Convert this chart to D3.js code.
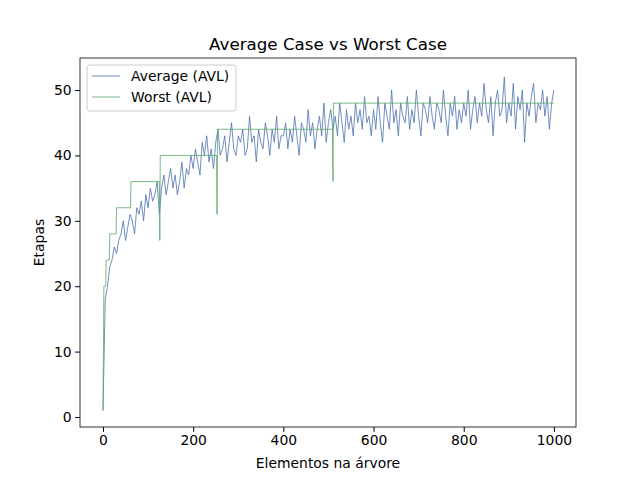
<!DOCTYPE html><html><head><meta charset="utf-8"><script src="https://cdn.jsdelivr.net/npm/d3@7"></script>
<style>body{margin:0;background:#fff}text{font-family:"DejaVu Sans",sans-serif}</style></head><body><svg id="c" width="640" height="480"></svg><script>
const avgStep=5;
const avgValues=[1,18,20,23,24,26,25,27,28,30,27,29,31,30,28,32,31,33,30,34,32,35,33,34,36,31,35,37,34,36,38,35,37,34,36,39,35,38,37,40,
38,41,39,37,42,40,43,39,41,38,42,44,40,41,43,39,42,45,41,40,43,42,44,40,41,46,42,43,39,44,42,41,45,43,40,44,42,46,41,43,
43,45,41,44,42,46,43,40,45,44,42,47,43,45,41,44,46,43,48,42,45,47,44,46,43,48,45,42,47,44,46,43,48,45,47,44,49,45,46,43,
47,44,49,45,42,48,46,44,50,45,47,43,48,46,45,49,44,47,45,50,46,43,48,47,45,49,46,44,48,47,45,50,46,43,48,46,49,44,47,45,
48,46,50,44,47,49,45,48,46,51,47,45,49,43,48,50,46,47,52,45,48,46,51,44,49,47,50,42,48,46,49,51,45,48,47,50,46,49,44,48,50];
const worstX=[0,2,3,6,7,14,15,29,30,61,62,125,126,127,252,253,254,509,510,511,1000];
const worstY=[1,20,20,20,24,24,28,28,32,32,36,36,27,40,40,31,44,44,36,48,48];
const xTicks=[0,200,400,600,800,1000], yTicks=[0,10,20,30,40,50];
const svg=d3.select("#c");
const L=80,R=576,T=58,B=427;
const x=d3.scaleLinear().domain([-51,1049]).range([L,R]);
const y=d3.scaleLinear().domain([-1.53,54.9]).range([B,T]);
const avg=avgValues.map((v,i)=>[i*avgStep,v]);
const line=d3.line().x(d=>x(d[0])).y(d=>y(d[1]));
svg.append("path").datum(avg).attr("d",line).attr("fill","none").attr("stroke","#4c72b0").attr("stroke-width",0.8);
svg.append("path").datum(worstX.map((v,i)=>[v,worstY[i]])).attr("d",line).attr("fill","none").attr("stroke","#55a868").attr("stroke-width",0.8);
svg.append("rect").attr("x",L).attr("y",T).attr("width",R-L).attr("height",B-T).attr("fill","none").attr("stroke","#000").attr("stroke-width",0.8);
svg.append("g").attr("transform",`translate(0,${B})`).call(d3.axisBottom(x).tickValues(xTicks).tickFormat(d3.format("d")).tickSize(4.9).tickPadding(3.5)).call(g=>{g.select(".domain").remove();g.selectAll("text").attr("font-size",13.9).attr("fill","#000");});
svg.append("g").attr("transform",`translate(${L},0)`).call(d3.axisLeft(y).tickValues(yTicks).tickSize(4.9).tickPadding(3.5)).call(g=>{g.select(".domain").remove();g.selectAll("text").attr("font-size",13.9).attr("fill","#000");});
svg.append("text").attr("x",(L+R)/2).attr("y",T-8).attr("text-anchor","middle").attr("font-size",16.7).text("Average Case vs Worst Case");
svg.append("text").attr("x",(L+R)/2).attr("y",468).attr("text-anchor","middle").attr("font-size",13.9).text("Elementos na árvore");
svg.append("text").attr("transform",`translate(44,${(T+B)/2}) rotate(-90)`).attr("text-anchor","middle").attr("font-size",13.9).text("Etapas");
const lg=svg.append("g").attr("transform",`translate(87,65)`);
lg.append("rect").attr("width",149).attr("height",46).attr("rx",3).attr("fill","#fff").attr("fill-opacity",0.8).attr("stroke","#ccc");
[["Average (AVL)","#4c72b0"],["Worst (AVL)","#55a868"]].forEach((d,i)=>{
lg.append("line").attr("x1",5).attr("x2",33).attr("y1",11+i*21).attr("y2",11+i*21).attr("stroke",d[1]).attr("stroke-width",0.8);
lg.append("text").attr("x",44).attr("y",16+i*21).attr("font-size",13.9).text(d[0]);});
</script></body></html>
